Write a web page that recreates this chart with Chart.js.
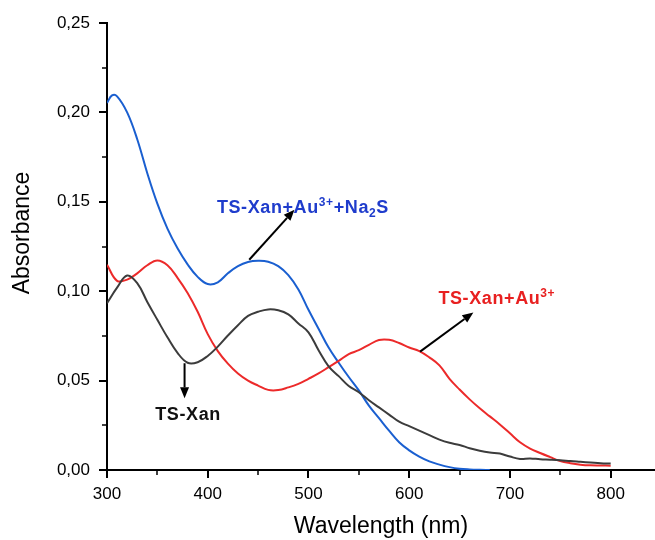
<!DOCTYPE html>
<html><head><meta charset="utf-8">
<script src="https://cdn.jsdelivr.net/npm/chart.js@4.4.0/dist/chart.umd.min.js"></script>
<style>html,body{margin:0;padding:0;background:#fff}#c{display:block}</style>
</head><body>
<canvas id="c" width="655" height="540"></canvas>
<script>
// ---- data ----
const wlNa2S  = [300,305,310,320,330,340,350,360,370,380,390,400,410,420,430,440,450,460,470,480,490,500,510,520,530,540,550,560,570,580,590,600,610,620,630,640,650,660,670,680];
const absNa2S = [0.2053,0.2095,0.209,0.200,0.185,0.166,0.149,0.135,0.124,0.115,0.108,0.104,0.105,0.110,0.114,0.1163,0.117,0.1165,0.114,0.109,0.101,0.0896,0.079,0.0685,0.060,0.052,0.0445,0.036,0.029,0.022,0.0155,0.011,0.0075,0.0048,0.003,0.0016,0.0007,0.0003,0.0001,0.0];

const wlAu  = [300,310,320,330,340,350,360,370,380,390,400,410,420,430,440,450,460,470,480,490,500,510,520,530,540,550,560,570,580,590,600,610,620,630,640,650,660,670,680,690,700,710,720,730,740,750,760,770,780,790,800];
const absAu = [0.1148,0.1058,0.1065,0.110,0.1145,0.1172,0.1145,0.1075,0.099,0.0885,0.076,0.0665,0.0595,0.054,0.050,0.0472,0.0448,0.0447,0.0462,0.0482,0.051,0.054,0.0575,0.061,0.0648,0.067,0.070,0.0727,0.0728,0.071,0.0685,0.0665,0.063,0.0585,0.051,0.045,0.0395,0.0345,0.030,0.0255,0.0205,0.0155,0.012,0.0095,0.0072,0.005,0.0038,0.003,0.0026,0.0025,0.0024];

const wlXan  = [300,310,320,330,340,350,360,370,380,390,400,410,420,430,440,450,460,470,480,490,500,510,520,530,540,550,560,570,580,590,600,610,620,630,640,650,660,670,680,690,700,710,720,730,740,750,760,770,780,790,800];
const absXan = [0.0933,0.102,0.1088,0.1045,0.094,0.084,0.0742,0.0655,0.0600,0.0603,0.0638,0.069,0.0752,0.081,0.0862,0.0885,0.0898,0.0893,0.087,0.082,0.077,0.067,0.058,0.0525,0.047,0.0435,0.039,0.035,0.031,0.027,0.0245,0.022,0.0195,0.017,0.0152,0.014,0.0122,0.0108,0.0098,0.0092,0.0075,0.0062,0.0065,0.006,0.0058,0.0055,0.005,0.0046,0.0042,0.0038,0.0036];

const xTickLabels = ['300','400','500','600','700','800'];
const yTickLabels = ['0,00','0,05','0,10','0,15','0,20','0,25'];

const FONT = "'Liberation Sans', Arial, sans-serif";
Chart.defaults.font.family = FONT;
Chart.defaults.color = '#000';

const pts = (xs, ys) => xs.map((x, i) => ({x, y: ys[i]}));

// annotations (positions in data units)
const labels = [
  {x: 409.1, y: 0.1439, color: '#1f3ccc', parts: [{t:'TS-Xan+Au'},{t:'3+',sup:1},{t:'+Na'},{t:'2',sub:1},{t:'S'}]},
  {x: 629.0, y: 0.0928, color: '#e82020', parts: [{t:'TS-Xan+Au'},{t:'3+',sup:1}]},
  {x: 347.9, y: 0.0280, color: '#111111', parts: [{t:'TS-Xan'}]}
];
const arrows = [
  {x1: 441.2, y1: 0.1176, x2: 486.1, y2: 0.1456},
  {x1: 610.8, y1: 0.0662, x2: 663.7, y2: 0.0881},
  {x1: 377.0, y1: 0.0597, x2: 377.0, y2: 0.0401}
];

const extras = {
  id: 'extras',
  afterDraw(chart) {
    const {ctx, scales: {x, y}, chartArea: ca} = chart;
    ctx.save();
    // minor ticks
    ctx.strokeStyle = '#000'; ctx.lineWidth = 1.5;
    [350,450,550,650,750].forEach(v => {
      const px = Math.round(x.getPixelForValue(v));
      ctx.beginPath(); ctx.moveTo(px, ca.bottom); ctx.lineTo(px, ca.bottom + 5); ctx.stroke();
    });
    [0.025,0.075,0.125,0.175,0.225].forEach(v => {
      const py = Math.round(y.getPixelForValue(v));
      ctx.beginPath(); ctx.moveTo(ca.left - 5, py); ctx.lineTo(ca.left, py); ctx.stroke();
    });
    // y axis title
    ctx.save();
    ctx.translate(23, 233);
    ctx.rotate(-Math.PI / 2);
    ctx.font = '23px ' + FONT;
    ctx.fillStyle = '#000'; ctx.textAlign = 'center'; ctx.textBaseline = 'middle';
    ctx.fillText('Absorbance', 0, 0);
    ctx.restore();
    // arrows
    arrows.forEach(a => {
      const x1 = x.getPixelForValue(a.x1), y1 = y.getPixelForValue(a.y1);
      const x2 = x.getPixelForValue(a.x2), y2 = y.getPixelForValue(a.y2);
      const ang = Math.atan2(y2 - y1, x2 - x1);
      const hl = 11, hw = 4.5;
      const bx = x2 - hl * Math.cos(ang), by = y2 - hl * Math.sin(ang);
      ctx.strokeStyle = '#000'; ctx.lineWidth = 2;
      ctx.beginPath(); ctx.moveTo(x1, y1); ctx.lineTo(bx, by); ctx.stroke();
      ctx.fillStyle = '#000';
      ctx.beginPath();
      ctx.moveTo(x2, y2);
      ctx.lineTo(bx + hw * Math.sin(ang), by - hw * Math.cos(ang));
      ctx.lineTo(bx - hw * Math.sin(ang), by + hw * Math.cos(ang));
      ctx.closePath(); ctx.fill();
    });
    // labels with super/subscripts
    ctx.textBaseline = 'alphabetic'; ctx.textAlign = 'left';
    try { ctx.letterSpacing = '0.6px'; } catch (e) {}
    labels.forEach(l => {
      let px = x.getPixelForValue(l.x);
      const base = y.getPixelForValue(l.y);
      ctx.fillStyle = l.color;
      l.parts.forEach(p => {
        let dy = 0;
        if (p.sup) { ctx.font = 'bold 12px ' + FONT; dy = -7; }
        else if (p.sub) { ctx.font = 'bold 12px ' + FONT; dy = 4; }
        else { ctx.font = 'bold 18px ' + FONT; }
        ctx.fillText(p.t, px, base + dy);
        px += ctx.measureText(p.t).width;
      });
    });
    ctx.restore();
  }
};

new Chart(document.getElementById('c'), {
  type: 'line',
  data: {
    datasets: [
      {label: 'TS-Xan', data: pts(wlXan, absXan), borderColor: '#3c3c3c'},
      {label: 'TS-Xan+Au3+', data: pts(wlAu, absAu), borderColor: '#ec2a2a'},
      {label: 'TS-Xan+Au3++Na2S', data: pts(wlNa2S, absNa2S), borderColor: '#1a5fd0'}
    ]
  },
  options: {
    responsive: false,
    animation: false,
    devicePixelRatio: 1,
    layout: {padding: {top: 23, right: 0, left: 0, bottom: 0}},
    elements: {
      point: {radius: 0},
      line: {borderWidth: 2, tension: 0.4, fill: false}
    },
    plugins: {legend: {display: false}, tooltip: {enabled: false}},
    scales: {
      x: {
        type: 'linear', min: 300, max: 844,
        afterFit(s) { s.height = 70; },
        ticks: {
          stepSize: 100, includeBounds: false, padding: 6,
          font: {size: 17}, color: '#000',
          callback: v => xTickLabels[Math.round((v - 300) / 100)] ?? ''
        },
        grid: {drawOnChartArea: false, color: '#000', lineWidth: 2, tickLength: 8},
        border: {color: '#000', width: 2},
        title: {display: true, text: 'Wavelength (nm)', color: '#000', font: {size: 23, lineHeight: 1}, padding: {top: 0, bottom: 2}}
      },
      y: {
        type: 'linear', min: 0, max: 0.25,
        afterFit(s) { s.width = 107; },
        ticks: {
          stepSize: 0.05, padding: 9,
          font: {size: 17}, color: '#000',
          callback: v => yTickLabels[Math.round(v / 0.05)] ?? ''
        },
        grid: {drawOnChartArea: false, color: '#000', lineWidth: 2, tickLength: 8},
        border: {color: '#000', width: 2}
      }
    }
  },
  plugins: [extras]
});
</script>
</body></html>
